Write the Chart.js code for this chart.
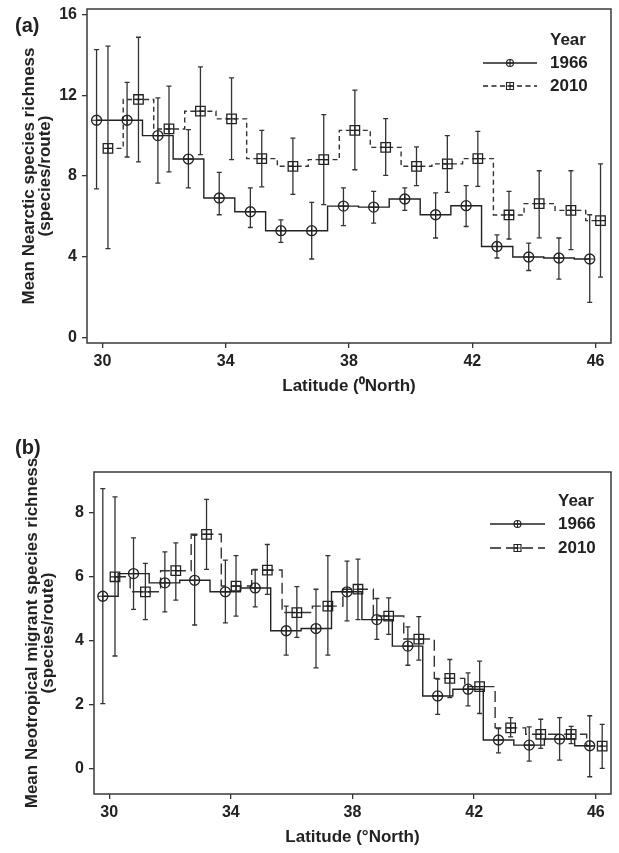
<!DOCTYPE html>
<html><head><meta charset="utf-8">
<script src="https://cdn.jsdelivr.net/npm/chart.js@4.4.1/dist/chart.umd.min.js"></script>
<style>
html,body{margin:0;padding:0;background:#fff;}
#wrap{position:relative;width:619px;height:853px;overflow:hidden;background:#fff;}
canvas{position:absolute;left:0;}
.lbl{position:absolute;left:15px;font:bold 20px "Liberation Sans",Arial,sans-serif;color:#222;line-height:20px;}
</style></head><body>
<div id="wrap">
<canvas id="ca" width="619" height="410" style="top:0"></canvas>
<canvas id="cb" width="619" height="443" style="top:410px"></canvas>
<div class="lbl" style="top:15px">(a)</div>
<div class="lbl" style="top:437px">(b)</div>
</div>
<script>
// ---- axis ticks ----
const xTicks = [30, 34, 38, 42, 46];
const yTicksA = [0, 4, 8, 12, 16];
const yTicksB = [0, 2, 4, 6, 8];
const seriesNames = ['1966', '2010'];
const legendTitle = 'Year';

// ---- Panel (a): Nearctic species ----
const latA1966  = [29.81,30.80,31.80,32.79,33.79,34.80,35.79,36.79,37.82,38.80,39.81,40.81,41.80,42.80,43.83,44.81,45.81];
const meanA1966 = [10.76,10.76,10.00,8.84,6.91,6.23,5.29,5.29,6.51,6.46,6.86,6.08,6.53,4.51,3.99,3.94,3.89];
const loA1966   = [7.36,8.94,7.65,7.41,6.08,5.45,4.71,3.89,5.54,5.67,6.30,4.93,5.50,3.94,3.32,2.89,1.74];
const hiA1966   = [14.26,12.64,11.87,10.30,8.18,7.41,5.83,6.69,7.41,7.24,7.41,7.16,7.52,5.08,4.68,4.93,6.08];

const latA2010  = [30.18,31.17,32.16,33.18,34.19,35.17,36.18,37.18,38.19,39.19,40.19,41.19,42.18,43.19,44.17,45.20,46.16];
const meanA2010 = [9.37,11.79,10.33,11.21,10.83,8.86,8.48,8.81,10.26,9.42,8.48,8.60,8.86,6.07,6.63,6.30,5.79];
const loA2010   = [4.40,8.70,8.20,9.06,8.81,7.46,7.09,6.58,8.31,8.03,7.52,7.19,7.49,4.88,4.94,4.35,2.99];
const hiA2010   = [14.43,14.87,12.45,13.40,12.86,10.26,9.88,11.04,12.25,10.84,9.44,10.00,10.21,7.24,8.26,8.26,8.60];

// ---- Panel (b): Neotropical migrant species ----
const latB1966  = [29.79,30.80,31.83,32.81,33.82,34.80,35.82,36.80,37.82,38.80,39.82,40.80,41.80,42.80,43.81,44.81,45.80];
const meanB1966 = [5.39,6.10,5.81,5.89,5.53,5.65,4.31,4.38,5.53,4.66,3.83,2.27,2.48,0.89,0.73,0.92,0.71];
const loB1966   = [2.03,4.98,4.90,4.49,4.56,5.06,3.55,3.15,4.62,4.04,3.23,1.69,1.96,0.49,0.23,0.26,-0.26];
const hiB1966   = [8.76,7.22,6.78,7.30,6.52,6.23,5.08,5.61,6.49,5.32,4.43,2.80,2.99,1.25,1.30,1.59,1.65];

const latB2010  = [30.19,31.19,32.19,33.20,34.17,35.20,36.17,37.19,38.18,39.19,40.18,41.20,42.18,43.20,44.19,45.19,46.21];
const meanB2010 = [6.00,5.53,6.19,7.33,5.71,6.21,4.88,5.08,5.61,4.77,4.05,2.82,2.56,1.27,1.07,1.07,0.70];
const loB2010   = [3.52,4.66,5.27,6.23,4.77,5.45,4.10,3.55,4.66,4.20,3.39,2.22,1.72,0.99,0.63,0.78,0.00];
const hiB2010   = [8.50,6.42,7.06,8.42,6.66,7.01,5.69,6.66,6.55,5.34,4.75,3.41,3.36,1.59,1.54,1.32,1.38];

const FAM = '"Liberation Sans", Arial, Helvetica, sans-serif';
const INK = '#222';

function pts(xs, ys) { return xs.map((x, i) => ({x: x, y: ys[i]})); }

function drawMarker(ctx, style, x, y, r) {
  ctx.beginPath();
  if (style === 'circle') {
    ctx.arc(x, y, r, 0, Math.PI * 2);
  } else {
    ctx.rect(x - r, y - r, 2 * r, 2 * r);
  }
  ctx.moveTo(x - r, y); ctx.lineTo(x + r, y);
  ctx.moveTo(x, y - r); ctx.lineTo(x, y + r);
  ctx.stroke();
}

const frame = {
  id: 'frame',
  afterDraw(chart) {
    const {ctx, chartArea: a} = chart;
    ctx.save();
    ctx.strokeStyle = '#3a3a3a'; ctx.lineWidth = 1.5; ctx.setLineDash([]);
    ctx.strokeRect(a.left, a.top, a.right - a.left, a.bottom - a.top);
    ctx.restore();
  }
};

const errBars = {
  id: 'errBars',
  afterDatasetsDraw(chart) {
    const {ctx, scales: {x, y}} = chart;
    ctx.save();
    ctx.setLineDash([]);
    chart.data.datasets.forEach(ds => {
      ds.data.forEach((p, i) => {
        const px = x.getPixelForValue(p.x);
        const py = y.getPixelForValue(p.y);
        const y1 = y.getPixelForValue(ds.errLo[i]);
        const y2 = y.getPixelForValue(ds.errHi[i]);
        ctx.strokeStyle = '#333'; ctx.lineWidth = 1.3;
        ctx.beginPath();
        ctx.moveTo(px, y1); ctx.lineTo(px, y2);
        ctx.moveTo(px - 2.5, y1); ctx.lineTo(px + 2.5, y1);
        ctx.moveTo(px - 2.5, y2); ctx.lineTo(px + 2.5, y2);
        ctx.stroke();
        // plus inside marker
        ctx.strokeStyle = INK; ctx.lineWidth = 1.2;
        const r = ds.markR;
        ctx.beginPath();
        ctx.moveTo(px - r, py); ctx.lineTo(px + r, py);
        ctx.moveTo(px, py - r); ctx.lineTo(px, py + r);
        ctx.stroke();
      });
    });
    ctx.restore();
  }
};

const yearLegend = {
  id: 'yearLegend',
  afterDraw(chart, args, o) {
    const ctx = chart.ctx;
    ctx.save();
    ctx.fillStyle = INK;
    ctx.font = 'bold 17px ' + FAM;
    ctx.textAlign = 'left';
    ctx.textBaseline = 'middle';
    ctx.fillText(legendTitle, o.textX, o.yTitle);
    chart.data.datasets.forEach((ds, i) => {
      const yy = o.rows[i];
      ctx.strokeStyle = INK; ctx.lineWidth = 1.3;
      ctx.setLineDash(ds.borderDash || []);
      ctx.beginPath(); ctx.moveTo(o.x0, yy); ctx.lineTo(o.x1, yy); ctx.stroke();
      ctx.setLineDash([]);
      ctx.lineWidth = 1.1;
      const mx = (o.x0 + o.x1) / 2;
      drawMarker(ctx, ds.pointStyle === 'rect' ? 'rect' : 'circle', mx, yy, 3.5);
      ctx.fillStyle = INK;
      ctx.fillText(ds.label, o.textX, yy);
    });
    ctx.restore();
  }
};

function makeChart(id, c) {
  const tickFont = {family: FAM, size: 16, weight: 'bold'};
  return new Chart(document.getElementById(id), {
    type: 'line',
    data: {
      datasets: [
        {
          label: seriesNames[0], data: pts(c.lat66, c.mean66), errLo: c.lo66, errHi: c.hi66, markR: 5,
          stepped: 'middle', borderColor: INK, borderWidth: 1.4, fill: false,
          pointStyle: 'circle', pointRadius: 5, pointBorderWidth: 1.3,
          pointBorderColor: INK, pointBackgroundColor: 'rgba(0,0,0,0)'
        },
        {
          label: seriesNames[1], data: pts(c.lat10, c.mean10), errLo: c.lo10, errHi: c.hi10, markR: 4.7,
          stepped: 'middle', borderColor: '#333', borderWidth: 1.4, borderDash: c.dash, fill: false,
          pointStyle: 'rect', pointRadius: 6.7, pointBorderWidth: 1.3,
          pointBorderColor: INK, pointBackgroundColor: 'rgba(0,0,0,0)'
        }
      ]
    },
    options: {
      responsive: false, animation: false, events: [],
      layout: {padding: {left: 0, top: c.padTop, right: 2, bottom: 0}},
      plugins: {
        legend: {display: false}, tooltip: {enabled: false},
        yearLegend: c.legend
      },
      scales: {
        x: {
          type: 'linear', min: 29.5, max: 46.5,
          afterBuildTicks: s => { s.ticks = xTicks.map(v => ({value: v})); },
          ticks: {font: tickFont, color: INK, padding: 4, maxRotation: 0},
          grid: {drawOnChartArea: false, drawTicks: true, tickLength: 5, color: '#333', lineWidth: 1.3},
          border: {display: false},
          title: {display: true, text: c.xTitle, color: INK,
                  font: {family: FAM, size: 17, weight: 'bold'}, padding: {top: 0, bottom: c.xTitlePad}},
          afterFit: s => { s.height = c.xH; s.paddingLeft = 0; s.paddingRight = 0; }
        },
        y: {
          type: 'linear', min: c.ymin, max: c.ymax,
          afterBuildTicks: s => { s.ticks = c.yTicks.map(v => ({value: v})); },
          ticks: {font: tickFont, color: INK, padding: 5},
          grid: {drawOnChartArea: false, drawTicks: true, tickLength: 5, color: '#333', lineWidth: 1.3},
          border: {display: false},
          title: {display: true, text: c.yTitle, color: INK,
                  font: {family: FAM, size: 17, weight: 'bold', lineHeight: '16px'},
                  padding: {top: c.yTitlePad, bottom: 0}},
          afterFit: s => { s.width = c.yW; s.paddingTop = 0; s.paddingBottom = 0; }
        }
      }
    },
    plugins: [frame, errBars, yearLegend]
  });
}

makeChart('ca', {
  lat66: latA1966, mean66: meanA1966, lo66: loA1966, hi66: hiA1966,
  lat10: latA2010, mean10: meanA2010, lo10: loA2010, hi10: hiA2010,
  dash: [5, 3.5], padTop: 9, ymin: -0.27, ymax: 16.27, yTicks: yTicksA,
  xH: 67, yW: 87, xTitlePad: 13, yTitlePad: 21,
  xTitle: 'Latitude (\u2070North)',
  yTitle: ['Mean Nearctic species richness', '(species/route)'],
  legend: {x0: 483, x1: 537, textX: 550, yTitle: 40, rows: [63, 86]}
});

makeChart('cb', {
  lat66: latB1966, mean66: meanB1966, lo66: loB1966, hi66: hiB1966,
  lat10: latB2010, mean10: meanB2010, lo10: loB2010, hi10: hiB2010,
  dash: [11, 5], padTop: 62, ymin: -0.80, ymax: 9.28, yTicks: yTicksB,
  xH: 59, yW: 94, xTitlePad: 5, yTitlePad: 24,
  xTitle: 'Latitude (\u00B0North)',
  yTitle: ['Mean Neotropical migrant species richness', '(species/route)'],
  legend: {x0: 490, x1: 545, textX: 558, yTitle: 91, rows: [114, 138]}
});
</script>
</body></html>
